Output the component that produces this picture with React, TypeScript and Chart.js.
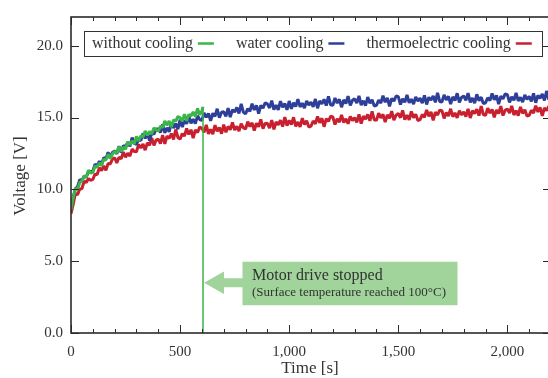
import { useEffect, useRef } from "react";
import { Chart, registerables } from "chart.js";

Chart.register(...registerables);

// ---- data ----
const sampleInterval = 10; // seconds between samples

const waterCooling = [
  8.6, 9.45, 10.05, 10.18, 10.68, 10.6, 10.92, 10.85, 11.25, 11.25,
  11.26, 11.75, 11.65, 11.96, 11.72, 12.21, 12.13, 12.58, 12.23, 12.57,
  12.68, 12.48, 13.0, 12.56, 13.04, 12.96, 13.28, 13.0, 13.6, 13.2,
  13.13, 13.5, 13.39, 13.9, 13.55, 13.88, 13.4, 13.96, 13.84, 14.21,
  14.2, 13.96, 14.52, 13.93, 14.29, 14.0, 14.66, 14.27, 14.58, 14.19,
  14.85, 14.34, 14.78, 14.57, 15.11, 14.6, 14.89, 14.58, 15.12, 14.86,
  14.8, 15.33, 15.01, 15.29, 14.77, 15.3, 15.08, 15.61, 14.99, 15.37,
  15.4, 15.08, 15.65, 15.03, 15.55, 15.38, 15.7, 15.28, 15.95, 15.38,
  15.25, 15.62, 15.44, 15.96, 15.53, 15.85, 15.27, 15.84, 15.66, 16.03,
  15.95, 15.67, 16.18, 15.55, 15.86, 15.53, 16.14, 15.71, 15.97, 15.54,
  16.15, 15.61, 16.02, 15.77, 16.28, 15.74, 16.0, 15.66, 16.16, 15.87,
  16.08, 15.74, 16.29, 15.65, 16.16, 15.96, 16.27, 15.83, 16.48, 15.89,
  15.85, 16.36, 16.01, 16.27, 15.72, 16.23, 15.98, 16.49, 15.84, 16.2,
  16.3, 16.0, 16.51, 15.86, 16.17, 15.83, 16.43, 15.99, 16.24, 15.8,
  15.85, 16.21, 16.01, 16.52, 16.07, 16.37, 15.78, 16.33, 16.14, 16.5,
  16.45, 15.91, 16.31, 16.06, 16.57, 16.03, 16.28, 15.94, 16.44, 16.15,
  16.35, 16.0, 16.55, 15.91, 16.41, 16.21, 16.51, 16.06, 16.72, 16.12,
  16.08, 16.58, 16.23, 16.48, 15.94, 16.44, 16.19, 16.69, 16.05, 16.4,
  16.5, 16.2, 16.7, 16.05, 16.36, 16.01, 16.62, 16.17, 16.42, 15.97,
  16.03, 16.38, 16.18, 16.68, 16.24, 16.54, 15.94, 16.49, 16.3, 16.65,
  16.6, 16.05, 16.45, 16.2, 16.71, 16.16, 16.41, 16.07, 16.57, 16.27,
  16.48, 16.13, 16.68, 16.03, 16.54, 16.34, 16.64, 16.19, 16.85, 16.25,
  16.4,
];

const thermoelectricCooling = [
  8.3, 8.95, 9.7, 9.63, 10.03, 10.05, 10.55, 10.48, 10.75, 10.63,
  10.69, 11.06, 11.04, 11.51, 11.31, 11.64, 11.32, 11.81, 11.77, 12.11,
  12.2, 11.84, 12.24, 12.12, 12.6, 12.24, 12.52, 12.32, 12.8, 12.64,
  12.62, 13.13, 12.88, 13.16, 12.73, 13.24, 13.07, 13.58, 13.06, 13.43,
  13.5, 13.19, 13.78, 13.17, 13.71, 13.55, 13.89, 13.48, 14.17, 13.61,
  13.5, 13.88, 13.71, 14.24, 13.82, 14.15, 13.57, 14.14, 13.96, 14.33,
  14.25, 13.97, 14.49, 13.86, 14.18, 13.85, 14.47, 14.04, 14.31, 13.88,
  14.5, 13.97, 14.38, 14.15, 14.66, 14.13, 14.39, 14.06, 14.57, 14.29,
  14.2, 14.71, 14.37, 14.63, 14.09, 14.6, 14.36, 14.87, 14.23, 14.59,
  14.6, 14.26, 14.82, 14.18, 14.69, 14.5, 14.81, 14.37, 15.03, 14.44,
  14.8, 14.51, 15.02, 14.38, 14.69, 14.35, 14.96, 14.52, 14.78, 14.34,
  14.4, 14.76, 14.57, 15.08, 14.64, 14.95, 14.36, 14.92, 14.73, 15.09,
  15.05, 14.51, 14.92, 14.68, 15.19, 14.65, 14.91, 14.57, 15.08, 14.79,
  15.0, 14.66, 15.22, 14.58, 15.09, 14.9, 15.21, 14.77, 15.43, 14.84,
  14.8, 15.31, 14.97, 15.22, 14.69, 15.19, 14.95, 15.45, 14.81, 15.17,
  15.28, 14.99, 15.5, 14.85, 15.16, 14.83, 15.43, 14.99, 15.23, 14.79,
  14.85, 15.21, 15.02, 15.53, 15.09, 15.4, 14.81, 15.37, 15.18, 15.52,
  15.48, 14.94, 15.35, 15.11, 15.61, 15.06, 15.32, 14.98, 15.48, 15.19,
  15.4, 15.06, 15.61, 14.97, 15.47, 15.28, 15.58, 15.14, 15.79, 15.2,
  15.15, 15.66, 15.31, 15.56, 15.02, 15.53, 15.28, 15.79, 15.14, 15.5,
  15.6, 15.31, 15.81, 15.18, 15.48, 15.13, 15.74, 15.29, 15.54, 15.1,
  15.15, 15.51, 15.32, 15.83, 15.39, 15.7, 15.12, 15.67, 15.48, 15.8,
  15.5,
];

const withoutCooling = [
  8.6, 9.38, 10.05, 9.98, 10.48, 10.58, 10.93, 10.85, 11.33, 11.13,
  11.18, 11.62, 11.55, 11.84, 11.65, 12.09, 12.04, 12.44, 12.15, 12.46,
  12.64, 12.53, 12.98, 12.63, 12.94, 12.79, 13.31, 13.1, 13.37, 13.16,
  13.68, 13.37, 13.73, 13.64, 14.07, 13.76, 14.02, 13.85, 14.28, 14.15,
  14.06, 14.4, 14.3, 14.76, 14.46, 14.76, 14.34, 14.84, 14.74, 15.08,
  14.98, 14.75, 15.24, 14.77, 15.22, 15.11, 15.39, 15.07, 15.63, 15.19,
  15.45,
];

const stopTime = 605; // s, motor drive stopped
const stopPeakVoltage = 15.75;

const xTickValues = [0, 500, 1000, 1500, 2000];
const yTickValues = [0, 5, 10, 15, 20];
const xMinorStep = 100;

const seriesLabels = ["without cooling", "water cooling", "thermoelectric cooling"];
const seriesColors = ["#3bb54a", "#2e3f99", "#c8202e"];
const annotationLines = ["Motor drive stopped", "(Surface temperature reached 100°C)"];
const annotationVoltage = 3.5;

const FONT = "'Liberation Serif', 'DejaVu Serif', serif";
const TEXT = "#333333";

const fmtThousands = (v: number) => String(v).replace(/\B(?=(\d{3})+(?!\d))/g, ",");

const framePlugin = {
  id: "frame",
  afterDatasetsDraw(chart: any) {
    const { ctx, chartArea: a, scales } = chart;
    const x = scales.x;
    const y = scales.y;
    ctx.save();
    ctx.strokeStyle = "#2b2b2b";
    ctx.lineWidth = 1;
    const seg = (x1: number, y1: number, x2: number, y2: number) => {
      ctx.beginPath();
      ctx.moveTo(x1, y1);
      ctx.lineTo(x2, y2);
      ctx.stroke();
    };
    for (let v = 0; v <= x.max; v += xMinorStep) {
      const px = Math.round(x.getPixelForValue(v)) + 0.5;
      const len = v % 500 === 0 ? 8 : 4;
      seg(px, a.bottom, px, a.bottom - len);
      seg(px, a.top, px, a.top + len);
    }
    for (const v of yTickValues) {
      const py = Math.round(y.getPixelForValue(v)) + 0.5;
      seg(a.left, py, a.left + 8, py);
      seg(a.right, py, a.right - 8, py);
    }
    ctx.lineWidth = 1.6;
    ctx.strokeRect(a.left, a.top, a.right - a.left, a.bottom - a.top);
    ctx.restore();
  },
  afterDraw(chart: any) {
    const { ctx, chartArea: a, scales } = chart;
    const x = scales.x;
    const y = scales.y;
    ctx.save();

    // ---- legend ----
    ctx.font = `16px ${FONT}`;
    ctx.textBaseline = "alphabetic";
    ctx.textAlign = "left";
    const boxLeft = a.left + 13;
    const boxTop = a.top + 14;
    const boxH = 25;
    let cx = boxLeft + 8;
    const positions: { tx: number; sx: number }[] = [];
    seriesLabels.forEach((label, i) => {
      const w = ctx.measureText(label).width;
      const sx = cx + w + 5;
      positions.push({ tx: cx, sx });
      cx = sx + 16 + (i < seriesLabels.length - 1 ? 22 : 10);
    });
    ctx.fillStyle = "#ffffff";
    ctx.fillRect(boxLeft, boxTop, cx - boxLeft, boxH);
    ctx.strokeStyle = "#333";
    ctx.lineWidth = 1;
    ctx.strokeRect(Math.round(boxLeft) + 0.5, Math.round(boxTop) + 0.5, Math.round(cx - boxLeft), boxH);
    seriesLabels.forEach((label, i) => {
      ctx.fillStyle = TEXT;
      ctx.fillText(label, positions[i].tx, boxTop + 17);
      ctx.strokeStyle = seriesColors[i];
      ctx.lineWidth = 2.5;
      ctx.beginPath();
      ctx.moveTo(positions[i].sx, boxTop + 12.5);
      ctx.lineTo(positions[i].sx + 16, boxTop + 12.5);
      ctx.stroke();
    });

    // ---- annotation ----
    const tx = x.getPixelForValue(stopTime) + 1;
    const ty = y.getPixelForValue(annotationVoltage);
    const bx = tx + 38.5;
    const bTop = ty - 21;
    ctx.fillStyle = "#a0d49a";
    ctx.beginPath();
    ctx.moveTo(tx, ty);
    ctx.lineTo(tx + 20, ty - 11.2);
    ctx.lineTo(tx + 20, ty - 4.5);
    ctx.lineTo(bx + 1, ty - 4.5);
    ctx.lineTo(bx + 1, ty + 4.5);
    ctx.lineTo(tx + 20, ty + 4.5);
    ctx.lineTo(tx + 20, ty + 11.2);
    ctx.closePath();
    ctx.fill();
    ctx.fillRect(bx, bTop, 215, 43.5);
    ctx.fillStyle = TEXT;
    ctx.font = `16px ${FONT}`;
    ctx.fillText(annotationLines[0], bx + 9.5, bTop + 18);
    ctx.font = `13px ${FONT}`;
    ctx.fillText(annotationLines[1], bx + 9.5, bTop + 34);

    // ---- axis titles ----
    ctx.font = `17px ${FONT}`;
    ctx.textAlign = "center";
    ctx.fillText("Time [s]", (a.left + 549) / 2, 373);
    ctx.translate(25, (a.top + a.bottom) / 2 + 1);
    ctx.rotate(-Math.PI / 2);
    ctx.fillText("Voltage [V]", 0, 0);
    ctx.restore();
  },
};

export default function App() {
  const canvasRef = useRef<HTMLCanvasElement | null>(null);

  useEffect(() => {
    document.body.style.margin = "0";
    document.body.style.overflow = "hidden";
    const canvas = canvasRef.current;
    if (!canvas) return;
    const toPoints = (values: number[]) => values.map((v, i) => ({ x: i * sampleInterval, y: v }));
    const greenPoints = [
      ...toPoints(withoutCooling),
      { x: stopTime, y: stopPeakVoltage },
      { x: stopTime, y: 0 },
    ];
    const chart = new Chart(canvas, {
      type: "line",
      data: {
        datasets: [
          {
            label: seriesLabels[0],
            data: greenPoints,
            borderColor: seriesColors[0],
            borderWidth: 3,
            segment: { borderWidth: (c: any) => (c.p1DataIndex === greenPoints.length - 1 ? 1.5 : 3) },
          },
          { label: seriesLabels[1], data: toPoints(waterCooling), borderColor: seriesColors[1], borderWidth: 3 },
          { label: seriesLabels[2], data: toPoints(thermoelectricCooling), borderColor: seriesColors[2], borderWidth: 3 },
        ],
      },
      options: {
        animation: false,
        responsive: false,
        maintainAspectRatio: false,
        layout: { padding: { top: 11, right: 1, left: 0, bottom: 0 } },
        elements: { point: { radius: 0 }, line: { tension: 0, borderJoinStyle: "bevel" } },
        plugins: { legend: { display: false }, tooltip: { enabled: false } },
        scales: {
          x: {
            type: "linear",
            min: 0,
            max: 2200,
            grid: { display: false, drawTicks: false },
            border: { display: false },
            ticks: {
              font: { family: FONT, size: 15 },
              color: TEXT,
              padding: 10,
              maxRotation: 0,
              autoSkip: false,
              callback: (v: any) => fmtThousands(Number(v)),
            },
            afterBuildTicks: (s: any) => {
              s.ticks = xTickValues.map((value) => ({ value }));
            },
            afterFit: (s: any) => {
              s.height = 45;
            },
          },
          y: {
            type: "linear",
            min: 0,
            max: 22,
            grid: { display: false, drawTicks: false },
            border: { display: false },
            ticks: {
              font: { family: FONT, size: 15 },
              color: TEXT,
              padding: 8,
              autoSkip: false,
              callback: (v: any) => Number(v).toFixed(1),
            },
            afterBuildTicks: (s: any) => {
              s.ticks = yTickValues.map((value) => ({ value }));
            },
            afterFit: (s: any) => {
              s.width = 71;
            },
          },
        },
      },
      plugins: [framePlugin],
    } as any);
    return () => chart.destroy();
  }, []);

  return (
    <div style={{ width: 548, height: 378, overflow: "hidden", background: "#fff" }}>
      <canvas ref={canvasRef} width={552} height={378} style={{ display: "block" }} />
    </div>
  );
}
